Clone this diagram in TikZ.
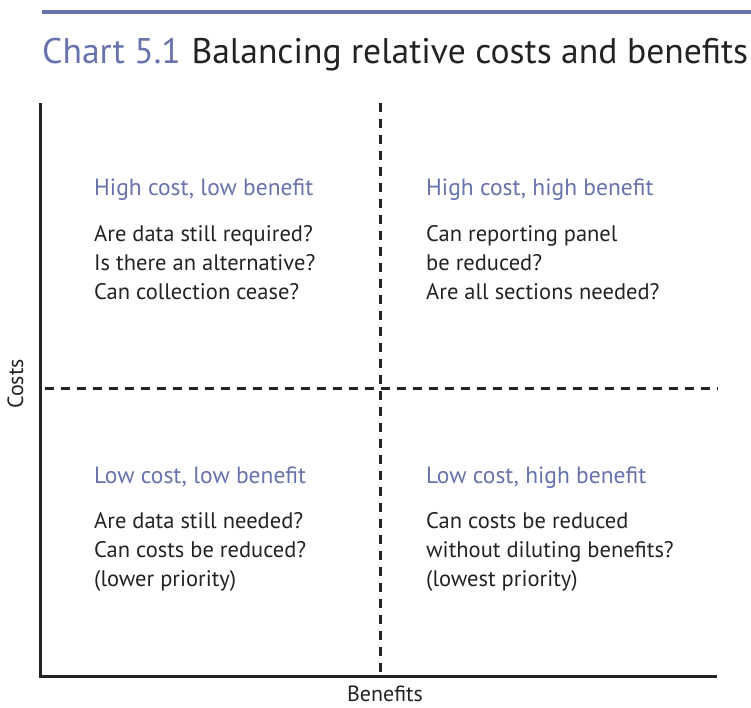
\documentclass[tikz,border=0pt]{standalone}
\usepackage{fontspec}
\setmainfont{PT Sans}
\usepackage{tikz}
\usetikzlibrary{positioning}
\definecolor{chartblue}{RGB}{104,114,172}
\definecolor{inkdark}{RGB}{35,35,35}

\begin{document}
\begin{tikzpicture}[x=1pt,y=-1pt,
  axis/.style={draw=inkdark,line width=3pt},
  divider/.style={draw=inkdark,line width=3pt,dash pattern=on 9pt off 7pt},
  qhead/.style={anchor=base west,inner sep=0pt,text depth=0pt,text=chartblue,
                font=\fontsize{23.5}{29}\selectfont},
  qtext/.style={inner sep=0pt,align=left,text=inkdark,font=\fontsize{22.5}{29}\selectfont},
  albl/.style={inner sep=0pt,text=inkdark,font=\fontsize{22}{26}\selectfont}]
  \useasboundingbox (0,0) rectangle (751,708);

  % rule and heading
  \draw[chartblue,line width=4pt] (42,12) -- (751,12);
  \node[anchor=base west,inner sep=0pt,font=\fontsize{35.6}{40}\selectfont,text=inkdark] (title) at (42,64)
    {\textcolor{chartblue}{Chart 5.1}\hspace{0.3em}Balancing relative costs and benefits};

  % axes
  \coordinate (ytop) at (40,103);
  \coordinate (xend) at (717,676);
  \draw[axis] (ytop) |- (xend);
  \node[albl,rotate=90,anchor=base] (costs) at (23,384) {Costs};
  \node[albl,anchor=base] (benefits) at (385,701) {Benefits};

  % quadrant dividers
  \coordinate (vtop) at (380,103);
  \coordinate (vbot) at (380,676);
  \coordinate (hleft) at (45,388);
  \coordinate (hright) at (718,388);
  \draw[divider] (vtop) -- (vbot);
  \draw[divider] (hleft) -- (hright);

  % quadrants
  \node[qhead] (hclb) at (94,196) {High cost, low benefit};
  \node[qtext,below=29pt of hclb.south west,anchor=north west] (hclbq)
    {Are data still required?\\Is there an alternative?\\Can collection cease?};
  \node[qhead] (hchb) at (426,196) {High cost, high benefit};
  \node[qtext,below=29pt of hchb.south west,anchor=north west] (hchbq)
    {Can reporting panel\\be reduced?\\Are all sections needed?};
  \node[qhead] (lclb) at (94,483) {Low cost, low benefit};
  \node[qtext,below=29pt of lclb.south west,anchor=north west] (lclbq)
    {Are data still needed?\\Can costs be reduced?\\(lower priority)};
  \node[qhead] (lchb) at (426,483) {Low cost, high benefit};
  \node[qtext,below=29pt of lchb.south west,anchor=north west] (lchbq)
    {Can costs be reduced\\without diluting benefits?\\(lowest priority)};
\end{tikzpicture}
\end{document}
